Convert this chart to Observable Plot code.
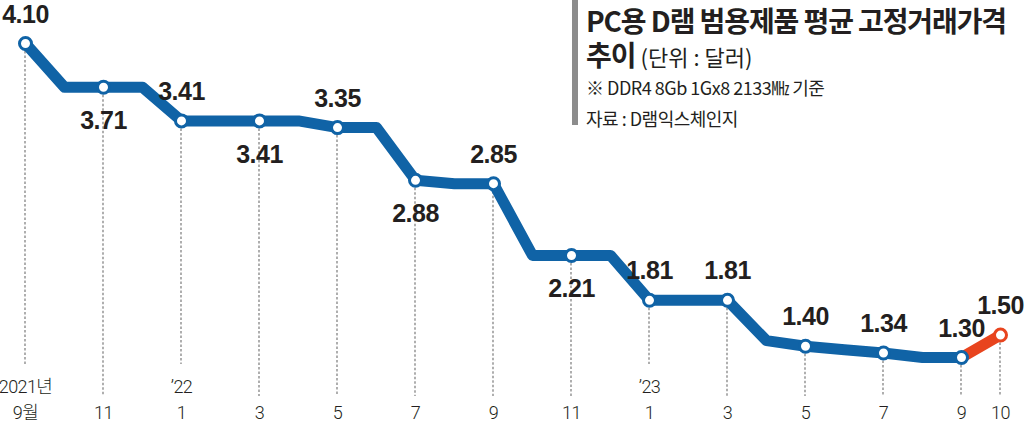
<!DOCTYPE html>
<html><head><meta charset="utf-8">
<script src="https://cdn.jsdelivr.net/npm/d3@7"></script>
<script src="https://cdn.jsdelivr.net/npm/@observablehq/plot@0.6"></script>
<style>
body{margin:0;background:#fff;}
#wrap{position:relative;width:1024px;height:426px;overflow:hidden;background:#fff;}
#title{position:absolute;left:572px;top:0;height:125px;border-left:6px solid #8c8c8c;padding-left:8px;font-family:"Noto Sans CJK KR",sans-serif;color:#231f20;}
#title div{white-space:nowrap;}
#title .t1{font-size:28px;font-weight:700;letter-spacing:-1.1px;line-height:41px;margin-top:0px;}
#title .t2{font-size:28px;font-weight:700;letter-spacing:-1.1px;line-height:26px;}
#title .t2 span{font-size:22px;font-weight:400;letter-spacing:0px;}
#title .t3{font-size:18px;font-weight:400;letter-spacing:-0.5px;line-height:36px;}
#title .t4{font-size:18px;font-weight:400;letter-spacing:-0.5px;line-height:26px;}
svg g[font-size="25"] text{letter-spacing:-0.5px;}
svg g[font-size="18"] text{letter-spacing:-0.6px;}
</style>
</head><body>
<div id="wrap">
<div id="chart"></div>
<div id="title">
<div class="t1">PC용 D램 범용제품 평균 고정거래가격</div>
<div class="t2">추이 <span>(단위 : 달러)</span></div>
<div class="t3">※ DDR4 8Gb 1Gx8 2133㎒ 기준</div>
<div class="t4">자료 : D램익스체인지</div>
</div>
</div>
<script>
const months = ["2021-09","2021-10","2021-11","2021-12","2022-01","2022-02","2022-03","2022-04","2022-05","2022-06","2022-07","2022-08","2022-09","2022-10","2022-11","2022-12","2023-01","2023-02","2023-03","2023-04","2023-05","2023-06","2023-07","2023-08","2023-09","2023-10"];
const prices = [4.10,3.71,3.71,3.71,3.41,3.41,3.41,3.41,3.35,3.35,2.88,2.85,2.85,2.21,2.21,2.21,1.81,1.81,1.81,1.45,1.40,1.37,1.34,1.30,1.30,1.50];
const labeledMonths = ["2021-09","2021-11","2022-01","2022-03","2022-05","2022-07","2022-09","2022-11","2023-01","2023-03","2023-05","2023-07","2023-09","2023-10"];
const tickLabels = ["9월","11","1","3","5","7","9","11","1","3","5","7","9","10"];
const yearMonths = ["2021-09","2022-01","2023-01"];
const yearLabels = ["2021년","’22","’23"];
const belowLabelMonths = ["2021-11","2022-03","2022-07","2022-11"];
const highlightMonths = ["2023-09","2023-10"];

const blue = "#1063a6", red = "#e8441e", ink = "#231f20";
const rows = months.map((m, i) => ({i, month: m, price: prices[i]}));
const labeled = rows.filter(d => labeledMonths.includes(d.month));
const ticks = labeledMonths.map((m, k) => ({i: months.indexOf(m), label: tickLabels[k]}));
const years = yearMonths.map((m, k) => ({i: months.indexOf(m), label: yearLabels[k]}));
const base = rows.filter(d => d.month <= highlightMonths[0]);
const hi = rows.filter(d => highlightMonths.includes(d.month));
const fmt = d3.format(".2f");

function guides(index, scales) {
  const g = d3.create("svg:g");
  for (const d of labeled) {
    const x = scales.x(d.i), y = scales.y(d.price);
    const yEnd = yearMonths.includes(d.month) ? 364 : 396;
    g.append("line").attr("x1", x).attr("x2", x).attr("y1", y + 8).attr("y2", yEnd)
      .attr("stroke", "#6d6d6d").attr("stroke-width", 1.1).attr("stroke-dasharray", "2.5,2");
  }
  return g.node();
}

const valueFont = '"Liberation Sans Narrow","Liberation Sans",Arial,sans-serif';
const tickFont = 'Roboto,"Noto Sans CJK KR",sans-serif';

const chart = Plot.plot({
  width: 1024, height: 426,
  marginTop: 0, marginBottom: 0, marginLeft: 0, marginRight: 0,
  x: {type: "linear", domain: [0, months.length - 1], range: [25, 1000], axis: null},
  y: {type: "linear", domain: [1.30, 4.10], range: [357, 43], axis: null},
  style: {background: "transparent", overflow: "visible"},
  marks: [
    guides,
    Plot.line(base, {x: "i", y: "price", stroke: blue, strokeWidth: 11, strokeLinejoin: "round", strokeLinecap: "round"}),
    Plot.line(hi, {x: "i", y: "price", stroke: red, strokeWidth: 11, strokeLinejoin: "round", strokeLinecap: "round"}),
    Plot.dot(labeled.filter(d => d.month !== highlightMonths[1]), {x: "i", y: "price", r: 6, fill: "white", stroke: blue, strokeWidth: 3}),
    Plot.dot(labeled.filter(d => d.month === highlightMonths[1]), {x: "i", y: "price", r: 6, fill: "white", stroke: red, strokeWidth: 3}),
    Plot.text(labeled.filter(d => !belowLabelMonths.includes(d.month)), {x: "i", y: "price", text: d => fmt(d.price), dy: -29, fill: ink, fontSize: 25, fontWeight: 700, fontFamily: valueFont, lineAnchor: "middle"}),
    Plot.text(labeled.filter(d => belowLabelMonths.includes(d.month)), {x: "i", y: "price", text: d => fmt(d.price), dy: 34, fill: ink, fontSize: 25, fontWeight: 700, fontFamily: valueFont, lineAnchor: "middle"}),
    Plot.text(ticks, {x: "i", text: "label", frameAnchor: "bottom", dy: -13, lineAnchor: "middle", fill: ink, fontSize: 18, fontWeight: 300, fontFamily: tickFont}),
    Plot.text(years, {x: "i", text: "label", frameAnchor: "bottom", dy: -39, lineAnchor: "middle", fill: ink, fontSize: 18, fontWeight: 300, fontFamily: tickFont})
  ]
});
document.getElementById("chart").appendChild(chart);
</script>
</body></html>
